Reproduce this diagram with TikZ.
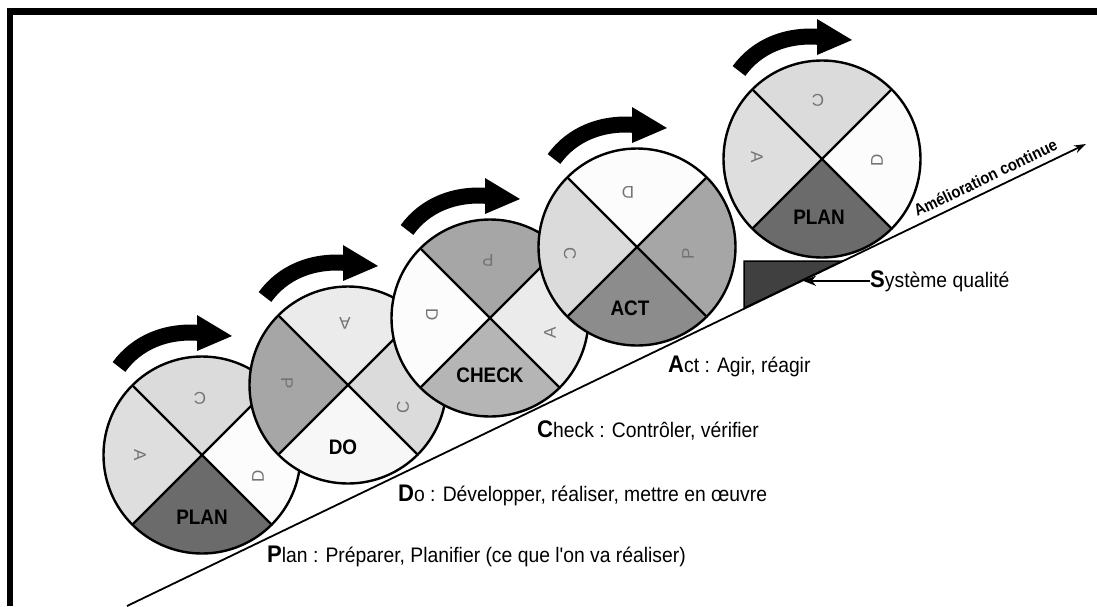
\documentclass[tikz,border=0pt]{standalone}
\usepackage{fontspec}
\setmainfont{Liberation Sans}
\newfontfamily\captionfont{Liberation Sans}[FakeStretch=0.92]
\newfontfamily\phasefont{Liberation Sans}[FakeStretch=0.9]
\usetikzlibrary{arrows.meta}

\definecolor{planfill}{gray}{0.42}
\definecolor{actfill}{gray}{0.55}
\definecolor{checkfill}{gray}{0.71}
\definecolor{dofill}{gray}{0.97}
\definecolor{pfill}{gray}{0.65}
\definecolor{cfill}{gray}{0.86}
\definecolor{afill}{gray}{0.87}
\definecolor{alight}{gray}{0.92}
\definecolor{dfill}{gray}{0.99}
\definecolor{wedgefill}{gray}{0.25}
\definecolor{lettergray}{gray}{0.45}

\tikzset{
  rim/.style={line width=2.4pt},
  divider/.style={line width=2.4pt},
  phase/.style={font=\phasefont\bfseries\fontsize{21}{21}\selectfont, inner sep=0pt},
  letter/.style={text=lettergray, font=\fontsize{17}{17}\selectfont, inner sep=0pt},
  caption/.style={font=\captionfont\fontsize{21}{24}\selectfont, inner sep=0pt, anchor=base west},
  roll/.style={line width=16pt},
}

% one PDCA wheel: #1 centre, #2 bottom, #3 left, #4 top, #5 right fill
\newcommand\wheelbody[5]{%
  \begin{scope}[shift={#1}]
    \begin{scope}
      \clip (0,0) circle[radius=98.5];
      \fill[#2] (0,0) -- (-120,120) -- (120,120) -- cycle;
      \fill[#3] (0,0) -- (-120,120) -- (-120,-120) -- cycle;
      \fill[#4] (0,0) -- (-120,-120) -- (120,-120) -- cycle;
      \fill[#5] (0,0) -- (120,-120) -- (120,120) -- cycle;
      \draw[divider] (-120,-120) -- (120,120) (-120,120) -- (120,-120);
    \end{scope}
    \draw[rim] (0,0) circle[radius=98.5];
    % rolling direction arrow above the wheel
    \draw[roll] (-83,-88) .. controls (-65,-113) and (-35,-125) .. (-2,-122);
    \fill (-5,-140) -- (30,-119) -- (-5,-104) -- cycle;
  \end{scope}}

\newcommand\firstletter[1]{{\bfseries\fontsize{24}{24}\selectfont #1}}

\begin{document}
\begin{tikzpicture}[x=1pt,y=-1pt]
  \useasboundingbox (0,0) rectangle (1097,606);
  \fill[white] (0,0) rectangle (1097,606);

  % frame
  \draw[line width=6.7pt] (10,606) -- (10,11.5) -- (1097,11.5);

  % wheel 1 : PLAN
  \wheelbody{(202,455)}{planfill}{afill}{cfill}{dfill}
  \node[phase] (w1b) at (202,517) {PLAN};
  \node[letter,rotate=-90] (w1l) at (140,455) {A};
  \node[letter,rotate=180] (w1t) at (200,398) {C};
  \node[letter,rotate=90]  (w1r) at (258,476) {D};

  % wheel 2 : DO
  \wheelbody{(348,385)}{dofill}{pfill}{alight}{cfill}
  \node[phase] (w2b) at (343,447) {DO};
  \node[letter,rotate=-90] (w2l) at (287,383) {P};
  \node[letter,rotate=180] (w2t) at (345,323) {A};
  \node[letter,rotate=90]  (w2r) at (403,407) {C};

  % wheel 3 : CHECK
  \wheelbody{(490,318)}{checkfill}{dfill}{pfill}{alight}
  \node[phase] (w3b) at (490,375) {CHECK};
  \node[letter,rotate=-90] (w3l) at (432,315) {D};
  \node[letter,rotate=180] (w3t) at (488,260) {P};
  \node[letter,rotate=90]  (w3r) at (550,333) {A};

  % wheel 4 : ACT
  \wheelbody{(637,247)}{actfill}{cfill}{dfill}{pfill}
  \node[phase] (w4b) at (630,308) {ACT};
  \node[letter,rotate=-90] (w4l) at (570,254) {C};
  \node[letter,rotate=180] (w4t) at (628,192) {D};
  \node[letter,rotate=90]  (w4r) at (688,254) {P};

  % wheel 5 : PLAN again
  \wheelbody{(822,159)}{planfill}{afill}{cfill}{dfill}
  \node[phase] (w5b) at (819,217) {PLAN};
  \node[letter,rotate=-90] (w5l) at (757,157) {A};
  \node[letter,rotate=180] (w5t) at (818,100) {C};
  \node[letter,rotate=90]  (w5r) at (877,160) {D};

  % slope of continuous improvement
  \coordinate (slopeA) at (127,606);
  \coordinate (slopeB) at (1086,144);
  \draw[line width=1.8pt, -{Stealth[length=12pt,width=8pt]}] (slopeA) -- (slopeB);
  \node[font=\phasefont\bfseries\fontsize{16.5}{16.5}\selectfont, rotate=25.7, anchor=base, inner sep=0pt]
    (amel) at (988,183) {Amélioration continue};

  % quality system wedge
  \filldraw[fill=wedgefill, draw=black, line width=1.5pt] (744,261) -- (842,261) -- (744,308) -- cycle;
  \node[caption] (sq) at (870,287) {\firstletter{S}ystème qualité};
  \coordinate (sqtip) at (803,283);
  \draw[line width=2.2pt, -{Stealth[length=13pt,width=10pt]}] (sq.west) -- (sqtip |- sq.west);

  % phase captions
  \node[caption] (cplan) at (267,562) {\firstletter{P}lan : Préparer, Planifier (ce que l'on va réaliser)};
  \node[caption] (cdo) at (398,501) {\firstletter{D}o : Développer, réaliser, mettre en œuvre};
  \node[caption] (ccheck) at (537,437) {\firstletter{C}heck : Contrôler, vérifier};
  \node[caption] (cact) at (668,372) {\firstletter{A}ct : Agir, réagir};
\end{tikzpicture}
\end{document}
